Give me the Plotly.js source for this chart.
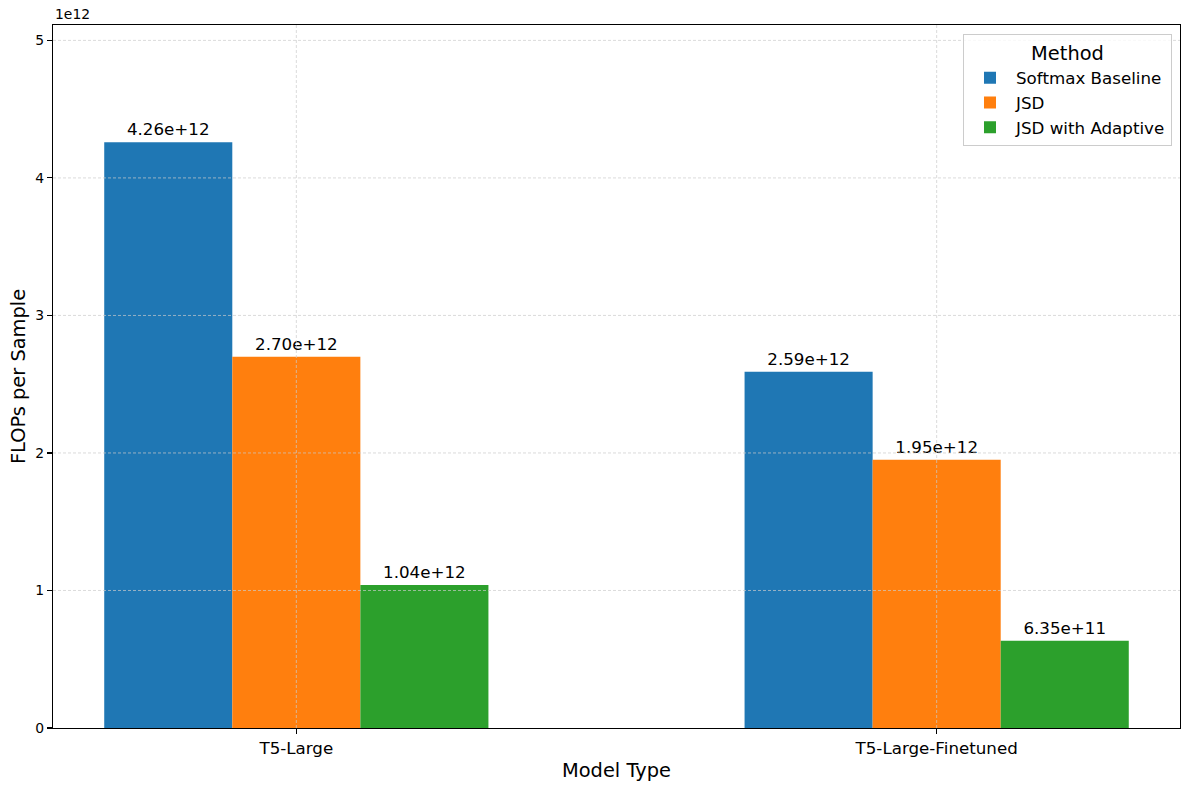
<!DOCTYPE html>
<html>
<head>
<meta charset="utf-8">
<script src="https://cdn.plot.ly/plotly-3.0.1.min.js"></script>
<style>html,body{margin:0;padding:0;background:#fff;}#chart{width:1189px;height:790px;}</style>
</head>
<body>
<div id="chart"></div>
<script>
const categories = ["T5-Large", "T5-Large-Finetuned"];
const seriesNames = ["Softmax Baseline", "JSD", "JSD with Adaptive"];
const softmaxBaseline = [4.26e12, 2.59e12];
const jsd = [2.70e12, 1.95e12];
const jsdAdaptive = [1.04e12, 6.35e11];
const yTickVals = [0, 1e12, 2e12, 3e12, 4e12, 5e12];
const yTickText = ["0", "1", "2", "3", "4", "5"];
const colors = ["#1f77b4", "#ff7f0e", "#2ca02c"];

const seriesValues = [softmaxBaseline, jsd, jsdAdaptive];
const font = "DejaVu Sans, sans-serif";

const traces = seriesValues.map((vals, i) => ({
  type: "bar",
  name: seriesNames[i],
  x: categories,
  y: vals,
  marker: {color: colors[i], line: {width: 0}},
  texttemplate: "%{y:.2e}",
  textposition: "outside",
  constraintext: "none",
  textfont: {family: font, size: 16.7, color: "#000"},
  cliponaxis: false,
  hoverinfo: "none"
}));

const maxVal = Math.max(...softmaxBaseline, ...jsd, ...jsdAdaptive);
const gridStyle = {color: "#cccccc", width: 0.7, dash: "3px,2px"};
const shapes = [];
categories.forEach(c => shapes.push({type: "line", layer: "above", xref: "x", yref: "paper", x0: c, x1: c, y0: 0, y1: 1, line: gridStyle}));
yTickVals.slice(1).forEach(v => shapes.push({type: "line", layer: "above", xref: "paper", yref: "y", x0: 0, x1: 1, y0: v, y1: v, line: gridStyle}));

const layout = {
  width: 1189, height: 790,
  margin: {l: 53, r: 9, t: 25, b: 62},
  paper_bgcolor: "#fff", plot_bgcolor: "#fff",
  font: {family: font, color: "#000"},
  barmode: "group", bargap: 0.4, bargroupgap: 0,
  showlegend: true,
  legend: {
    x: 0.9929, y: 0.987, xanchor: "right", yanchor: "top",
    title: {text: "Method", font: {family: font, size: 19.4}, side: "top center"},
    font: {family: font, size: 16.7},
    bgcolor: "rgba(255,255,255,0.8)", bordercolor: "#cccccc", borderwidth: 1,
    tracegroupgap: 3, itemwidth: 42
  },
  xaxis: {
    type: "category", range: [-0.38, 1.38],
    showgrid: false, zeroline: false,
    showline: true, linecolor: "#000", linewidth: 1.1, mirror: true,
    ticks: "outside", ticklen: 5, tickwidth: 1.1, tickcolor: "#000",
    tickfont: {family: font, size: 16.7},
    title: {text: "Model Type", font: {family: font, size: 19.4}, standoff: 6}
  },
  yaxis: {
    range: [0, maxVal * 1.2],
    tickvals: yTickVals, ticktext: yTickText,
    showgrid: false, zeroline: false,
    showline: true, linecolor: "#000", linewidth: 1.1, mirror: true,
    ticks: "outside", ticklen: 5, tickwidth: 1.1, tickcolor: "#000",
    tickfont: {family: font, size: 13.9},
    title: {text: "FLOPs per Sample", font: {family: font, size: 19.4}, standoff: 4}
  },
  shapes: shapes,
  annotations: [{
    text: "1e12", xref: "paper", yref: "paper", x: 0, y: 1, xanchor: "left", yanchor: "bottom",
    yshift: 1, showarrow: false, font: {family: font, size: 13.9}
  }]
};

Plotly.newPlot("chart", traces, layout, {displayModeBar: false, staticPlot: true});
</script>
</body>
</html>
